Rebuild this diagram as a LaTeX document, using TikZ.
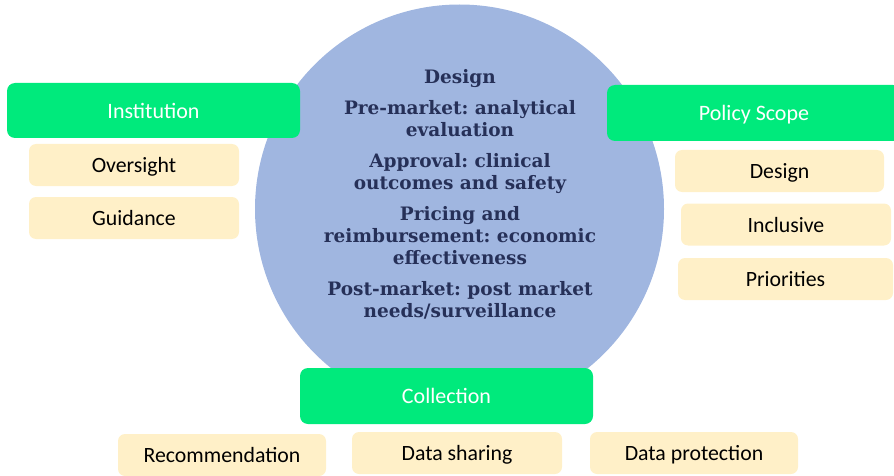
\documentclass[tikz,border=0pt]{standalone}
\usepackage{fontspec}
\setmainfont{Carlito}
\newfontfamily\circfont{DejaVu Serif}
\definecolor{cgreen}{RGB}{0,234,124}
\definecolor{cbeige}{RGB}{255,240,200}
\definecolor{cblue}{RGB}{160,182,224}
\definecolor{cnavy}{RGB}{38,48,88}
\begin{document}
\frenchspacing
\begin{tikzpicture}[x=1pt,y=-1pt,
  greenbox/.style={fill=cgreen, rounded corners=8pt, inner sep=0pt, text=white,
    font=\fontsize{22}{26}\selectfont, text depth=0pt},
  beigebox/.style={fill=cbeige, rounded corners=7pt, inner sep=0pt, text=black,
    font=\fontsize{21.8}{26}\selectfont, text depth=0pt, minimum height=42pt, minimum width=210pt},
  circtext/.style={text=cnavy, align=center, font=\circfont\bfseries\fontsize{18.5}{22}\selectfont}
]
\useasboundingbox (0,0) rectangle (894,476);
\node[circle, fill=cblue, minimum size=409pt, inner sep=0pt] (circ) at (459.5,209) {};
\node[circtext] (txt) at (460,194.5) {Design\\[9pt]
Pre-market: analytical\\evaluation\\[9pt]
Approval: clinical\\outcomes and safety\\[9pt]
Pricing and\\reimbursement: economic\\effectiveness\\[9pt]
Post-market: post market\\needs/surveillance};
% left
\node[greenbox, minimum width=293pt, minimum height=55pt] (inst) at (153.5,110.5) {Institution};
\node[beigebox] (over) at (134,165) {Oversight};
\node[beigebox] (guid) at (134,218) {Guidance};
% right
\node[greenbox, minimum width=294pt, minimum height=56pt] (pol) at (754,113) {Policy Scope};
\node[beigebox, minimum width=209pt] (pdes) at (779.5,171) {Design};
\node[beigebox] (pinc) at (786,224.5) {Inclusive};
\node[beigebox, minimum width=215pt] (ppri) at (785.5,279) {Priorities};
% bottom
\node[greenbox, minimum width=293pt, minimum height=56pt] (coll) at (446.5,396) {Collection};
\node[beigebox, minimum width=208pt] (rec) at (222,455) {Recommendation};
\node[beigebox] (dsh) at (457,453) {Data sharing};
\node[beigebox, minimum width=208pt] (dpr) at (694,453) {Data protection};
\end{tikzpicture}
\end{document}
